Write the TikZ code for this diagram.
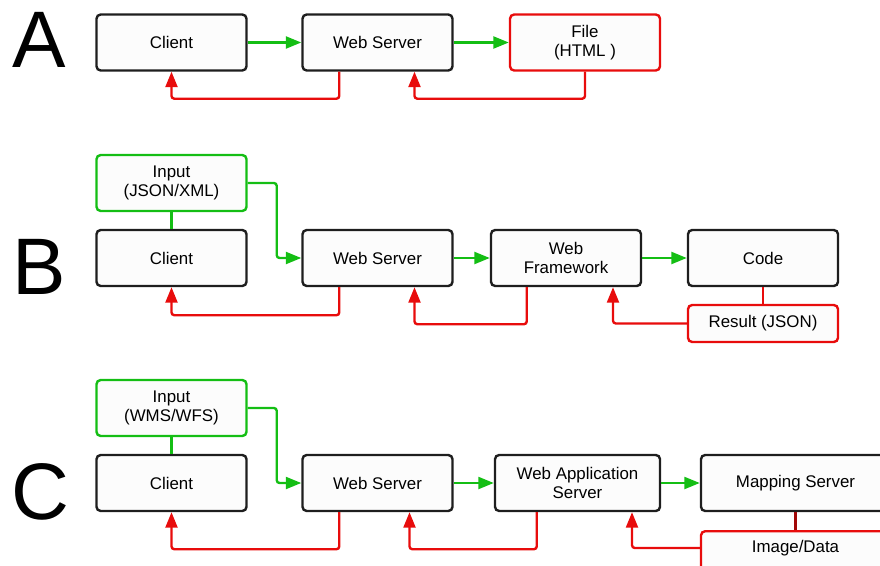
\documentclass[tikz,border=0pt]{standalone}
\usepackage{fontspec}
\setmainfont{Liberation Sans}
\usetikzlibrary{arrows.meta,calc}
\definecolor{boxfill}{RGB}{252,252,252}
\definecolor{edge}{RGB}{30,30,30}
\definecolor{fwd}{RGB}{20,190,20}
\definecolor{ret}{RGB}{232,12,12}

\begin{document}
\begin{tikzpicture}[x=0.025cm,y=-0.025cm,
        box/.style={draw=edge,line width=1.7pt,fill=boxfill,rounded corners=3pt,
            minimum width=3.75cm,minimum height=1.4cm,align=center,
            font=\fontsize{12}{14}\selectfont},
        inbox/.style={box,draw=fwd},
        outbox/.style={box,draw=ret},
        go/.style={fwd,line width=1.7pt,rounded corners=2pt,-{Triangle[length=11pt,width=8.5pt]}},
        back/.style={ret,line width=1.7pt,rounded corners=2pt,-{Triangle[length=11pt,width=8.5pt]}},
        tag/.style={font=\fontsize{57}{57}\selectfont,anchor=base,inner sep=0pt}]
        \clip (0,0) rectangle (880,565);

        \node[tag] (ta) at (39,68) {A};
        \node[box] (cla) at (171.5,42.5) {Client};
        \node[box] (wsa) at (377.5,42.5) {Web Server};
        \node[outbox] (filea) at (585,42.5) {File\\(HTML )};
        \draw[go] (cla) -- (wsa);
        \draw[go] (wsa) -- (filea);
        \draw[back] ($(wsa.south west)+(38,0)$) -- ++(0,27) -| (cla.south);
        \draw[back] (filea.south) -- ++(0,27) -| ($(wsa.south)+(37,0)$);

        \node[tag] (tb) at (39.5,294) {B};
        \node[inbox] (inb) at (171.5,183) {Input\\(JSON/XML)};
        \node[box] (clb) at (171.5,258) {Client};
        \node[box] (wsb) at (377.5,258) {Web Server};
        \node[box] (wfb) at (566,258) {Web\\Framework};
        \node[box] (codeb) at (763,258) {Code};
        \node[outbox,minimum height=0.925cm] (resb) at (763,323.5) {Result (JSON)};
        \draw[fwd,line width=1.7pt] (inb) -- (clb);
        \draw[go] (inb.east) -- ++(29,0) |- (wsb.west);
        \draw[go] (wsb) -- (wfb);
        \draw[go] (wfb) -- (codeb);
        \draw[ret,line width=1.7pt] (codeb) -- (resb);
        \draw[back] ($(wsb.south west)+(38,0)$) -- ++(0,28) -| (clb.south);
        \draw[back] ($(wfb.south west)+(37,0)$) -- ++(0,37) -| ($(wsb.south)+(37,0)$);
        \draw[back] (resb.west) -| ($(wfb.south)+(47,0)$);

        \node[tag] (tc) at (40.5,519) {C};
        \node[inbox] (inc) at (171.5,408) {Input\\(WMS/WFS)};
        \node[box] (clc) at (171.5,483) {Client};
        \node[box] (wsc) at (377.5,483) {Web Server};
        \node[box,minimum width=4.125cm] (wasc) at (577.5,483) {Web Application\\Server};
        \node[box,minimum width=4.725cm] (mapc) at (795.5,483) {Mapping Server};
        \node[outbox,minimum width=4.725cm,anchor=north,text height=12pt,text depth=1cm] (imgc) at (795.5,530) {Image/Data};
        \draw[fwd,line width=1.7pt] (inc) -- (clc);
        \draw[go] (inc.east) -- ++(29,0) |- (wsc.west);
        \draw[go] (wsc) -- (wasc);
        \draw[go] (wasc) -- (mapc);
        \draw[ret!70!black,line width=1.7pt] (mapc.south) -- (imgc.north);
        \draw[back] ($(wsc.south west)+(38,0)$) -- ++(0,37) -| (clc.south);
        \draw[back] ($(wasc.south west)+(43,0)$) -- ++(0,37) -| ($(wsc.south)+(32,0)$);
        \draw[back] ($(imgc.north west)+(0,18)$) -| ($(wasc.south)+(54.5,0)$);
    \end{tikzpicture}
\end{document}
